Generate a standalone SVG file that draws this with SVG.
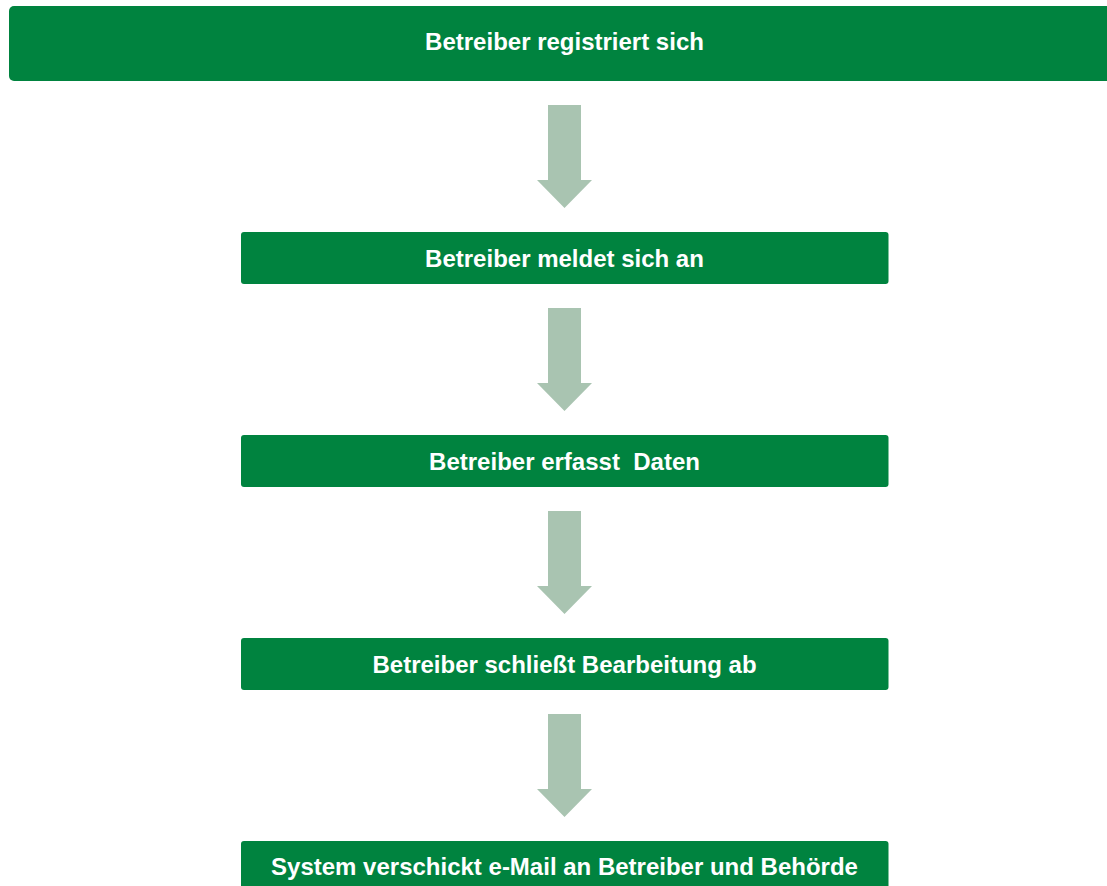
<svg xmlns="http://www.w3.org/2000/svg" width="1107" height="886" viewBox="0 0 1107 886">
<style>
.box{fill:#00833F}
.lbl{font-family:"Liberation Sans",Arial,sans-serif;font-weight:bold;font-size:24px;fill:#FFFFFF;text-anchor:middle}
.arr{fill:#A9C4B1}
</style>
<rect width="1107" height="886" fill="#FFFFFF"/>
<g id="connectors">
<polygon class="arr" points="548,105 581,105 581,180 592,180 564.5,208 537,180 548,180"/>
<polygon class="arr" points="548,308 581,308 581,383 592,383 564.5,411 537,383 548,383"/>
<polygon class="arr" points="548,511 581,511 581,586 592,586 564.5,614 537,586 548,586"/>
<polygon class="arr" points="548,714 581,714 581,789 592,789 564.5,817 537,789 548,789"/>
</g>
<g id="n1"><rect class="box" x="9" y="6" width="1110" height="75" rx="5"/><text class="lbl" x="564.5" y="50">Betreiber registriert sich</text></g>
<g id="n2"><rect class="box" x="241" y="232" width="647.5" height="52" rx="3"/><text class="lbl" x="564.5" y="267">Betreiber meldet sich an</text></g>
<g id="n3"><rect class="box" x="241" y="435" width="647.5" height="52" rx="3"/><text class="lbl" x="564.5" y="470" xml:space="preserve">Betreiber erfasst  Daten</text></g>
<g id="n4"><rect class="box" x="241" y="638" width="647.5" height="52" rx="3"/><text class="lbl" x="564.5" y="673">Betreiber schließt Bearbeitung ab</text></g>
<g id="n5"><rect class="box" x="241" y="841" width="647.5" height="52" rx="3"/><text class="lbl" x="564.5" y="875">System verschickt e-Mail an Betreiber und Behörde</text></g>
</svg>
